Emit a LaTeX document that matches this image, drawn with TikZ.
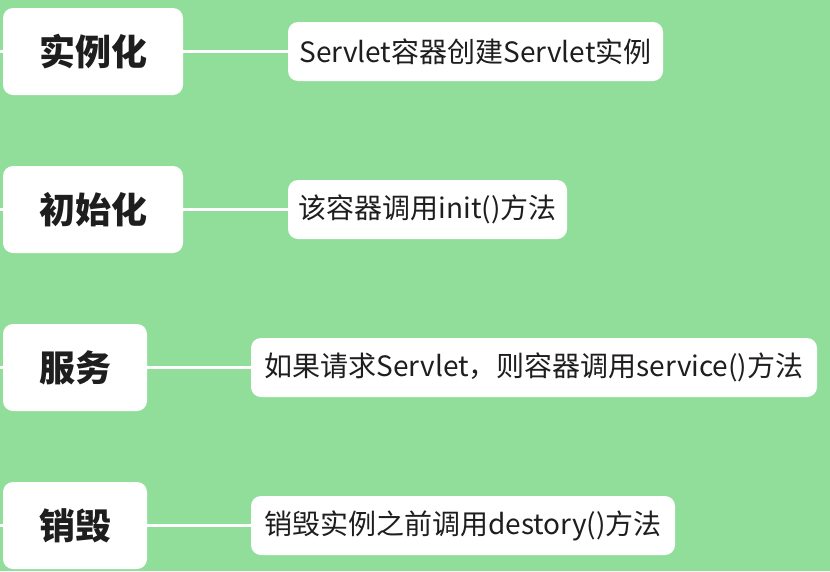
\documentclass[tikz,border=0pt]{standalone}
\usepackage{fontspec}
\newfontfamily\cjk{Noto Sans CJK SC}
\definecolor{bggreen}{RGB}{144,222,154}
\definecolor{ink}{RGB}{30,30,30}

\tikzstyle{stage}=[fill=white, rounded corners=10pt, minimum height=87pt, inner sep=0pt,
	text=ink, font=\cjk\bfseries\fontsize{36}{42}\selectfont]
\tikzstyle{detail}=[fill=white, rounded corners=10pt, minimum height=59pt, inner sep=0pt,
	text=ink, font=\cjk\fontsize{28}{33}\selectfont]
\tikzstyle{link}=[draw=white, line width=3pt]

\begin{document}
\begin{tikzpicture}[x=1pt, y=1pt]
	\fill[bggreen] (0,0) rectangle (830,-571);
	\useasboundingbox (0,0) rectangle (830,-571);
	\foreach \pos/\name/\boxw/\txt in {{(93,-51.5)}/inst/180/实例化, {(93,-209.5)}/init/180/初始化,
				{(75,-367.5)}/serv/144/服务, {(75,-525.5)}/kill/144/销毁}
		\node[stage, minimum width=\boxw pt] (\name) at \pos {\txt};
	\foreach \pos/\name/\boxw/\txt in {{(475.5,-51.5)}/instD/375/Servlet容器创建Servlet实例,
				{(427.5,-209.5)}/initD/279/该容器调用init()方法,
				{(534,-367.5)}/servD/566/如果请求Servlet，则容器调用service()方法,
				{(463,-525.5)}/killD/424/销毁实例之前调用destory()方法}
		\node[detail, minimum width=\boxw pt] (\name) at \pos {\txt};
	\foreach \y/\name in {-51.5/inst, -209.5/init, -367.5/serv, -525.5/kill}
		\coordinate (\name Stub) at (0,\y);
	\foreach \source/\dest in {instStub/inst, initStub/init, servStub/serv, killStub/kill,
				   inst/instD, init/initD, serv/servD, kill/killD}
		\path[link] (\source) -- (\dest);
\end{tikzpicture}
\end{document}
